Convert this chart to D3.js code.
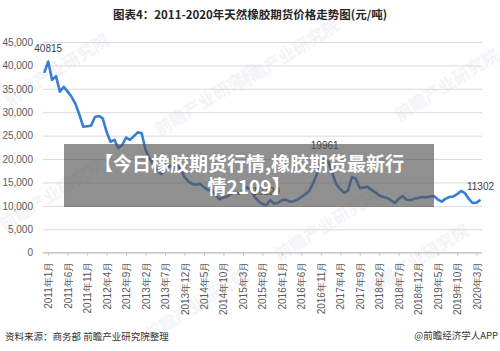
<!DOCTYPE html>
<html>
<head>
<meta charset="utf-8">
<script src="https://cdn.jsdelivr.net/npm/d3@7"></script>
<style>
  body { margin: 0; background: #fff; }
  svg { display: block; font-family: "Noto Sans CJK SC", "Noto Sans", sans-serif; }
</style>
</head>
<body>
<svg width="500" height="351"></svg>
<script>
// monthly rubber futures price, Dec 2010 .. Apr 2020 (yuan / ton)
var prices = [
  38400, 40815, 36900, 37700, 34400, 35400, 34400, 33300, 31800, 29500,
  26900, 27000, 27100, 29000, 29200, 28700, 25800, 23700, 24100, 22300,
  23000, 24600, 24100, 24900, 25700, 25500, 22000, 20200, 18800, 17600,
  16800, 17600, 18400, 18600, 18800, 17800, 16200, 15200, 14700, 14500,
  14700, 14000, 13400, 13400, 12300, 11400, 11800, 12000, 12600, 13000,
  12600, 13200, 14000, 13400, 11900, 11000, 10400, 10129, 11200, 10500,
  10600, 11200, 11300, 10900, 11000, 11300, 11900, 12500, 13200, 14800,
  16800, 18900, 19961, 19300, 16800, 14600, 13600, 12800, 13300, 16200,
  15800, 13800, 13900, 14100, 13400, 12900, 12200, 11900, 11700, 11200,
  10600, 11500, 12100, 11300, 11200, 11500, 11700, 11900, 11800, 12000,
  12100, 11400, 10900, 11500, 11900, 12000, 12500, 13200, 12700, 11500,
  10600, 10700, 11302
];
var labelled = [40815, 10129, 19961, 11302];   // values shown with a data label
var tickLabels = [
  "2011年1月", "2011年6月", "2011年11月", "2012年4月", "2012年9月", "2013年2月",
  "2013年7月", "2013年12月", "2014年5月", "2014年10月", "2015年3月", "2015年8月",
  "2016年1月", "2016年6月", "2016年11月", "2017年4月", "2017年9月", "2018年2月",
  "2018年7月", "2018年12月", "2019年5月", "2019年10月", "2020年3月"
];
var yTicks = [0, 5000, 10000, 15000, 20000, 25000, 30000, 35000, 40000, 45000];

// month categories, starting Dec 2010
var months = [];
for (var i = 0; i < prices.length; i++) {
  var yr = 2010 + Math.floor((11 + i) / 12);
  var mo = (11 + i) % 12 + 1;
  months.push(yr + "年" + mo + "月");
}

var svg = d3.select("svg");
var xLeft = 44.3, xRight = 480.5, yTop = 42, yBottom = 252.7;

// watermark
var marks = [[60, 75], [210, 105], [290, 60], [450, 90], [55, 200], [330, 230], [200, 310], [420, 265]];
svg.append("g").selectAll("text").data(marks).enter().append("text")
  .attr("transform", function(d) { return "translate(" + d[0] + "," + d[1] + ") rotate(-32)"; })
  .attr("text-anchor", "middle")
  .attr("font-size", 17).attr("font-weight", "bold")
  .attr("fill", "#f3f4f7")
  .text("前瞻产业研究院");

svg.append("text")
  .attr("x", 250).attr("y", 19)
  .attr("text-anchor", "middle")
  .attr("font-size", 11.5).attr("font-weight", "bold")
  .attr("fill", "#262626")
  .text("图表4：2011-2020年天然橡胶期货价格走势图(元/吨)");

var x = d3.scalePoint().domain(months).range([xLeft, xRight]);
var y = d3.scaleLinear().domain([0, 45000]).range([yBottom, yTop]);

// gridlines + y labels
var ga = svg.append("g")
  .attr("transform", "translate(43,0)")
  .call(d3.axisLeft(y).tickValues(yTicks).tickSize(-439).tickPadding(10));
ga.select(".domain").remove();
ga.selectAll("line").attr("stroke", "#d9d9d9");
ga.selectAll("text").attr("font-size", 10).attr("fill", "#595959")
  .attr("font-family", "Liberation Sans, Arial, sans-serif");

// x axis
var gx = svg.append("g")
  .attr("transform", "translate(0," + yBottom + ")")
  .call(d3.axisBottom(x).tickValues(tickLabels).tickSize(3).tickPadding(8));
gx.select(".domain").attr("stroke", "#bfbfbf").attr("d", "M43,0H482");
gx.selectAll("line").attr("stroke", "#bfbfbf");
gx.selectAll("text")
  .attr("transform", "rotate(-90)")
  .attr("x", -9).attr("y", 0).attr("dy", "0.35em")
  .attr("text-anchor", "end")
  .attr("font-size", 10).attr("fill", "#595959");

// price line
svg.append("path")
  .datum(prices)
  .attr("fill", "none")
  .attr("stroke", "#3a7dd6")
  .attr("stroke-width", 2.6)
  .attr("stroke-linejoin", "round")
  .attr("d", d3.line().x(function(d, i) { return x(months[i]); }).y(function(d) { return y(d); }));

// data labels
svg.append("g").selectAll("text")
  .data(prices.map(function(d, i) { return [i, d]; }).filter(function(p) { return labelled.indexOf(p[1]) >= 0; }))
  .enter().append("text")
  .attr("x", function(p) { return x(months[p[0]]); })
  .attr("y", function(p) { return y(p[1]) - 10; })
  .attr("text-anchor", "middle")
  .attr("font-size", 10).attr("fill", "#404040")
  .attr("font-family", "Liberation Sans, Arial, sans-serif")
  .text(function(p) { return p[1]; });

// footer
svg.append("text").attr("x", 5).attr("y", 340)
  .attr("font-size", 9.5).attr("fill", "#333")
  .text("资料来源：商务部 前瞻产业研究院整理");
svg.append("text").attr("x", 498).attr("y", 339)
  .attr("text-anchor", "end")
  .attr("font-size", 9.5).attr("fill", "#333")
  .text("@前瞻经济学人APP");

// title banner overlay
svg.append("rect")
  .attr("x", 64).attr("y", 144).attr("width", 370).attr("height", 63)
  .attr("fill", "rgba(85,85,85,0.65)");
svg.append("text").attr("x", 249).attr("y", 171)
  .attr("text-anchor", "middle")
  .attr("font-size", 19).attr("font-weight", "bold").attr("fill", "#fff")
  .text("【今日橡胶期货行情,橡胶期货最新行");
svg.append("text").attr("x", 249).attr("y", 194)
  .attr("text-anchor", "middle")
  .attr("font-size", 19).attr("font-weight", "bold").attr("fill", "#fff")
  .text("情2109】");
</script>
</body>
</html>
